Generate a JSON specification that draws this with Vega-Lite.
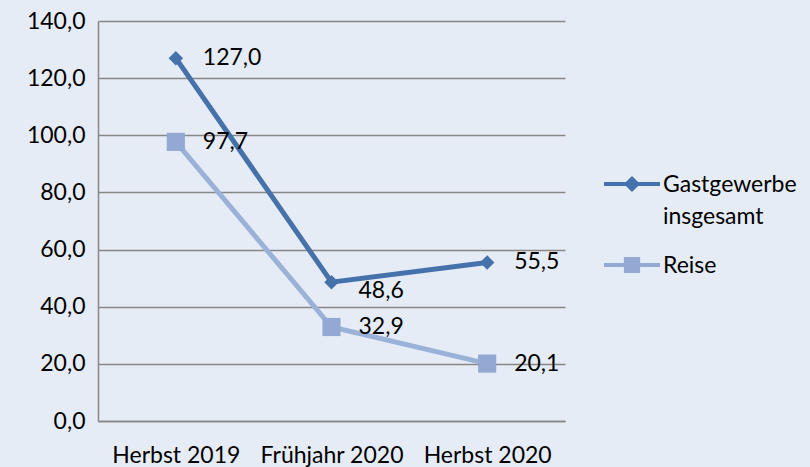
{
  "$schema": "https://vega.github.io/schema/vega-lite/v6.json",
  "width": 467,
  "height": 400,
  "autosize": {"type": "none"},
  "padding": {"left": 98, "top": 21, "right": 245, "bottom": 46},
  "background": "#e6ecf5",
  "config": {
    "locale": {"number": {"decimal": ",", "thousands": ".", "grouping": [3], "currency": ["", " €"]}},
    "view": {"stroke": null},
    "font": "Lato"
  },
  "data": {
    "values": [
      {"period": "Herbst 2019", "series": "Gastgewerbe insgesamt", "value": 127.0},
      {"period": "Frühjahr 2020", "series": "Gastgewerbe insgesamt", "value": 48.6},
      {"period": "Herbst 2020", "series": "Gastgewerbe insgesamt", "value": 55.5},
      {"period": "Herbst 2019", "series": "Reise", "value": 97.7},
      {"period": "Frühjahr 2020", "series": "Reise", "value": 32.9},
      {"period": "Herbst 2020", "series": "Reise", "value": 20.1}
    ]
  },
  "encoding": {
    "x": {
      "field": "period", "type": "ordinal", "sort": null,
      "scale": {"type": "point", "padding": 0.5},
      "axis": {"title": null, "labelAngle": 0, "ticks": false, "domainColor": "#868686", "domainWidth": 1.5, "labelFontSize": 23, "labelColor": "#000000", "labelPadding": 23, "labelFont": "Lato"}
    },
    "y": {
      "field": "value", "type": "quantitative",
      "scale": {"domain": [0, 140], "nice": false},
      "axis": {"title": null, "values": [0, 20, 40, 60, 80, 100, 120, 140], "format": ".1f", "ticks": false, "domainColor": "#868686", "domainWidth": 1.5, "gridColor": "#868686", "gridWidth": 1.5, "labelFontSize": 23, "labelColor": "#000000", "labelPadding": 13, "labelFont": "Lato"}
    }
  },
  "layer": [
    {
      "mark": {"type": "line", "strokeWidth": 5},
      "encoding": {
        "color": {"field": "series", "type": "nominal", "scale": {"domain": ["Gastgewerbe insgesamt", "Reise"], "range": ["#4672ab", "#9bb2d8"]}, "legend": null}
      }
    },
    {
      "mark": {"type": "point", "filled": true, "opacity": 1},
      "encoding": {
        "color": {"field": "series", "type": "nominal", "scale": {"domain": ["Gastgewerbe insgesamt", "Reise"], "range": ["#4672ab", "#93a9d3"]}, "legend": null},
        "shape": {"field": "series", "type": "nominal", "scale": {"domain": ["Gastgewerbe insgesamt", "Reise"], "range": ["diamond", "square"]}, "legend": null},
        "size": {"field": "series", "type": "nominal", "scale": {"domain": ["Gastgewerbe insgesamt", "Reise"], "range": [210, 330]}, "legend": null}
      }
    },
    {
      "transform": [{"filter": "datum.value != 48.6"}],
      "mark": {"type": "text", "align": "left", "baseline": "middle", "dx": 27, "fontSize": 23, "color": "#000000"},
      "encoding": {"text": {"field": "value", "type": "quantitative", "format": ".1f"}}
    },
    {
      "transform": [{"filter": "datum.value == 48.6"}],
      "mark": {"type": "text", "align": "left", "baseline": "middle", "dx": 27, "dy": 9, "fontSize": 23, "color": "#000000"},
      "encoding": {"text": {"field": "value", "type": "quantitative", "format": ".1f"}}
    },
    {
      "mark": {"type": "point", "filled": true, "opacity": 0},
      "encoding": {
        "color": {"field": "series", "type": "nominal", "scale": {"domain": ["Gastgewerbe insgesamt", "Reise"], "range": ["#4672ab", "#93a9d3"]},
          "legend": {"title": null, "orient": "none", "legendX": 506, "legendY": 135, "symbolSize": 3136, "symbolOpacity": 1, "symbolStrokeWidth": 0, "labelFontSize": 23, "labelColor": "#000000", "labelFont": "Lato", "labelOffset": 3, "labelLimit": 300, "rowPadding": 8, "labelBaseline": "alphabetic",
            "labelExpr": "datum.label == 'Gastgewerbe insgesamt' ? ['Gastgewerbe', 'insgesamt'] : datum.label",
            "encode": {"labels": {"update": {"lineHeight": {"value": 32}, "dy": {"value": 8}}}}}},
        "shape": {"field": "series", "type": "nominal", "scale": {"domain": ["Gastgewerbe insgesamt", "Reise"], "range": ["M-1,-0.07H1V0.07H-1Z M0,-0.29L0.29,0L0,0.29L-0.29,0Z", "M-1,-0.07H1V0.07H-1Z M-0.29,-0.29H0.29V0.29H-0.29Z"]},
          "legend": {"title": null, "orient": "none", "legendX": 506, "legendY": 135, "symbolSize": 3136, "symbolOpacity": 1, "symbolStrokeWidth": 0, "labelFontSize": 23, "labelColor": "#000000", "labelFont": "Lato", "labelOffset": 3, "labelLimit": 300, "rowPadding": 8, "labelBaseline": "alphabetic",
            "labelExpr": "datum.label == 'Gastgewerbe insgesamt' ? ['Gastgewerbe', 'insgesamt'] : datum.label",
            "encode": {"labels": {"update": {"lineHeight": {"value": 32}, "dy": {"value": 8}}}}}}
      }
    }
  ],
  "resolve": {"scale": {"color": "independent", "shape": "independent", "size": "independent"}}
}
